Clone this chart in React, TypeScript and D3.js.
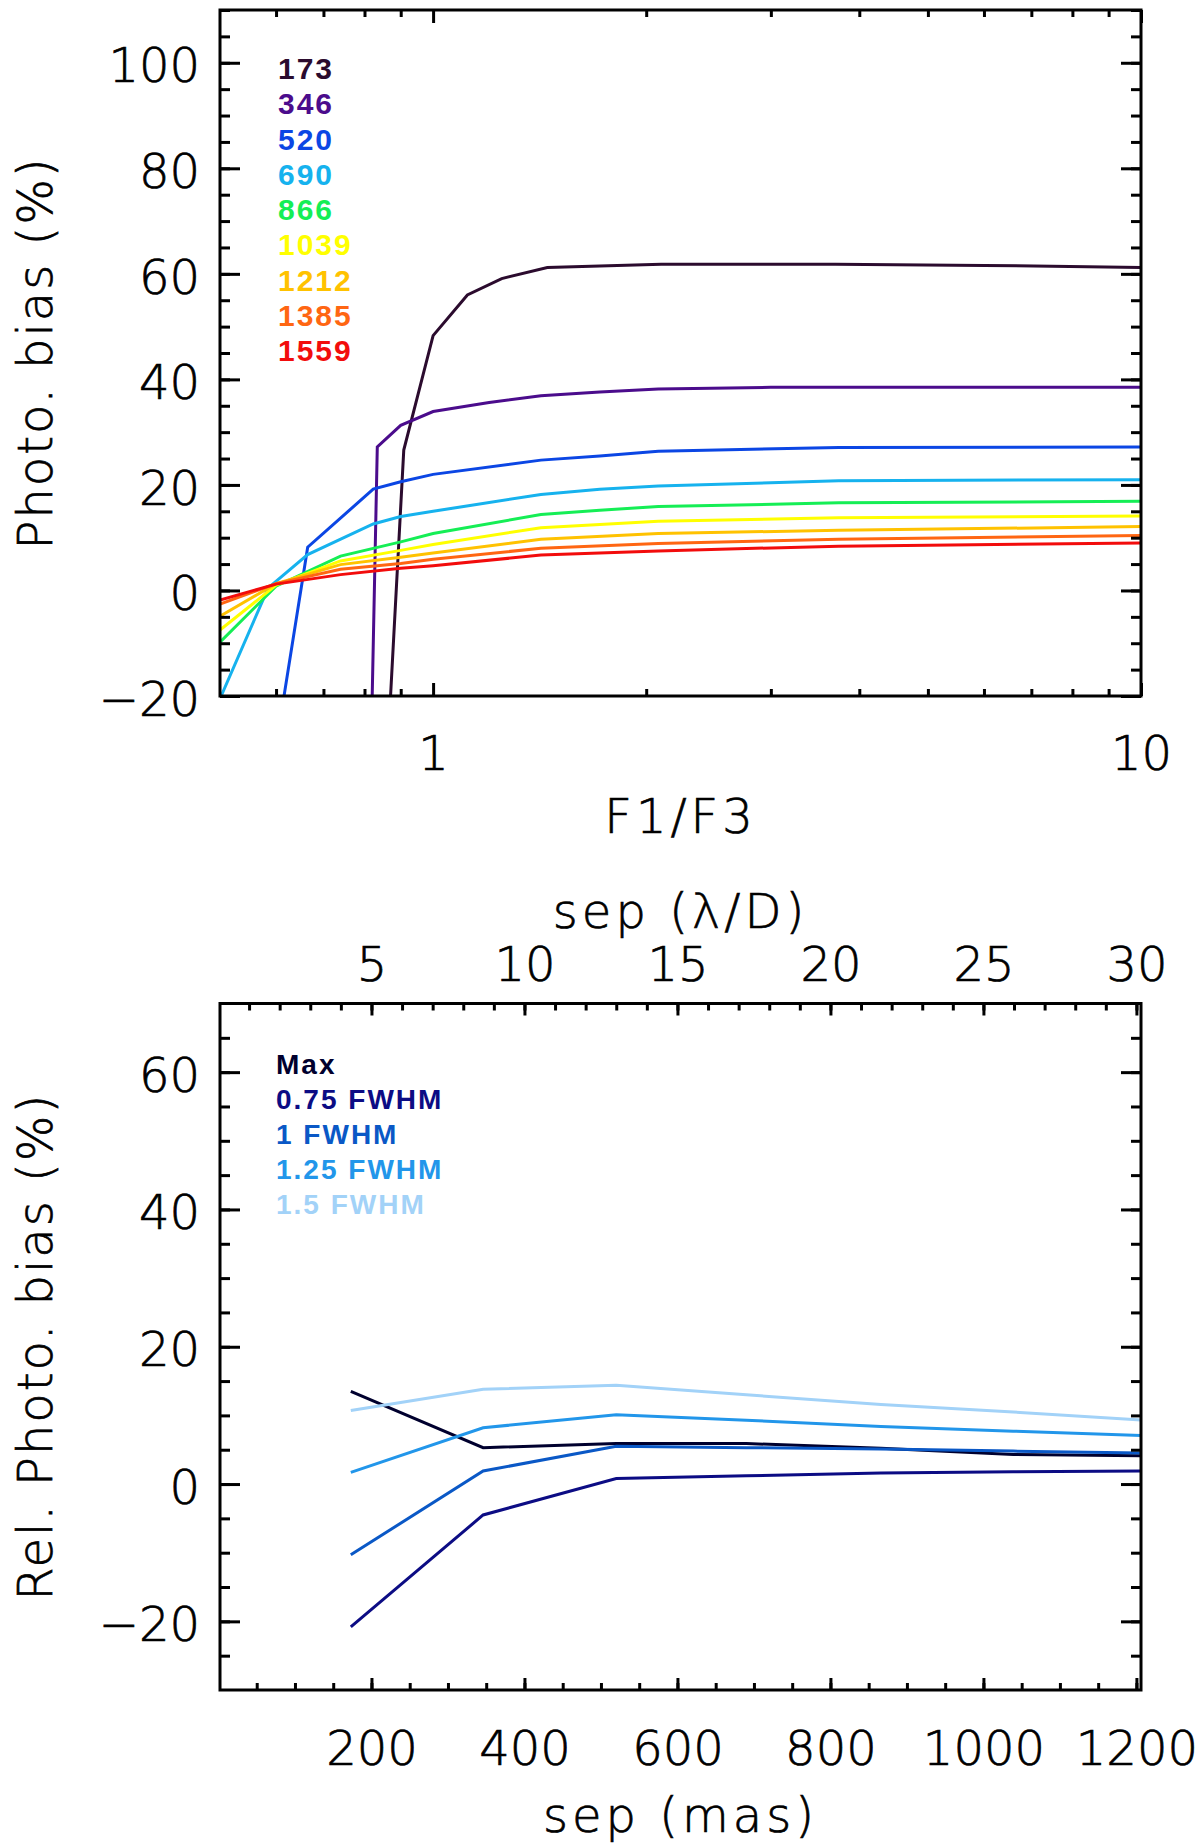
import React, { useEffect, useRef } from 'react';
import * as d3 from 'd3';

// ---- upper panel: photometric bias vs F1/F3, one curve per separation (mas)
const sepLabels = ['173', '346', '520', '690', '866', '1039', '1212', '1385', '1559'];
const sepColors = ['#2b0b2e', '#4b0c8c', '#0b46e4', '#16b2ee', '#15ee55', '#ffff00', '#ffc200', '#ff6612', '#f20c0c'];

const ratio173 = [0.83, 0.909, 1.0, 1.118, 1.25, 1.45, 2.1, 3.7, 6.0, 10];
const bias173 = [-72, 26.6, 48.3, 56.0, 59.1, 61.2, 61.8, 61.8, 61.6, 61.2];
const ratio346 = [0.8, 0.834, 0.9, 1.0, 1.2, 1.42, 1.72, 2.08, 3.0, 10];
const bias346 = [-91.5, 27.2, 31.3, 33.9, 35.6, 36.9, 37.6, 38.2, 38.5, 38.5];
const ratio520 = [0.6, 0.665, 0.823, 0.9, 1.0, 1.42, 1.72, 2.08, 3.74, 10];
const bias520 = [-29.5, 8.2, 19.2, 20.6, 22.0, 24.7, 25.5, 26.4, 27.1, 27.2];
const ratio690 = [0.5, 0.585, 0.665, 0.823, 0.9, 1.0, 1.42, 1.72, 2.08, 3.74, 10];
const bias690 = [-20.5, 0.5, 6.8, 12.6, 14.0, 15.0, 18.2, 19.2, 19.8, 20.8, 21.0];
const ratio866 = [0.5, 0.6, 0.74, 0.9, 1.0, 1.42, 1.72, 2.08, 3.74, 10];
const bias866 = [-9.8, 0.8, 6.5, 9.2, 10.8, 14.4, 15.2, 15.9, 16.6, 16.9];
const ratio1039 = [0.5, 0.6, 0.74, 0.9, 1.0, 1.42, 1.72, 2.08, 3.74, 10];
const bias1039 = [-7.5, 1.0, 5.6, 7.6, 8.7, 11.9, 12.5, 13.1, 13.8, 14.1];
const ratio1212 = [0.5, 0.6, 0.74, 0.9, 1.0, 1.42, 2.08, 3.74, 10];
const bias1212 = [-4.9, 1.3, 4.9, 6.3, 7.1, 9.7, 10.8, 11.4, 12.1];
const ratio1385 = [0.5, 0.6, 0.74, 0.9, 1.0, 1.42, 2.08, 3.74, 10];
const bias1385 = [-2.6, 1.3, 4.0, 5.1, 5.9, 8.0, 8.9, 9.7, 10.4];
const ratio1559 = [0.5, 0.6, 0.74, 0.9, 1.0, 1.42, 2.08, 3.74, 10];
const bias1559 = [-1.8, 1.2, 3.0, 4.2, 4.7, 6.7, 7.5, 8.4, 9.0];

const topX = [ratio173, ratio346, ratio520, ratio690, ratio866, ratio1039, ratio1212, ratio1385, ratio1559];
const topY = [bias173, bias346, bias520, bias690, bias866, bias1039, bias1212, bias1385, bias1559];

const topXMajor = [1, 10];
const topXMinor = [0.6, 0.7, 0.8, 0.9, 2, 3, 4, 5, 6, 7, 8, 9];
const topYMajor = [-20, 0, 20, 40, 60, 80, 100];

// ---- lower panel: relative photometric bias vs separation, one curve per aperture
const sepMas = [173, 346, 520, 690, 866, 1039, 1212];
const apLabels = ['Max', '0.75 FWHM', '1 FWHM', '1.25 FWHM', '1.5 FWHM'];
const apColors = ['#00002e', '#0c0c84', '#0a58c6', '#2296ea', '#a2d2f8'];
const relMax = [13.5, 5.3, 5.9, 5.9, 5.2, 4.3, 4.1];
const rel075 = [-20.8, -4.5, 0.8, 1.2, 1.6, 1.8, 1.9];
const rel100 = [-10.3, 1.9, 5.5, 5.3, 5.1, 4.8, 4.5];
const rel125 = [1.7, 8.2, 10.1, 9.3, 8.4, 7.7, 7.05];
const rel150 = [10.7, 13.8, 14.4, 13.0, 11.6, 10.5, 9.3];
const botY = [relMax, rel075, rel100, rel125, rel150];

const botXMajor = [200, 400, 600, 800, 1000, 1200];
const lodMajor = [5, 10, 15, 20, 25, 30];
const botYMajor = [-20, 0, 20, 40, 60];

const W = 1200;
const H = 1844;
const tickFont = "'DejaVu Sans', sans-serif";
const legendFont = "'Liberation Sans', Arial, sans-serif";

export default function App() {
  const svgRef = useRef<SVGSVGElement>(null);

  useEffect(() => {
    if (!svgRef.current) return;
    const svg = d3.select(svgRef.current);
    svg.selectAll('*').remove();

    const left = 220;
    const right = 1141;

    // thin sans text, slightly thickened to look like the IDL vector font
    const thinText = (sel: any) =>
      sel
        .attr('font-family', tickFont)
        .attr('font-size', 48)
        .attr('font-weight', 200)
        .attr('fill', '#000')
        .attr('stroke', '#000')
        .attr('stroke-width', 0.7);

    const styleAxis = (g: any, labelled: boolean) => {
      g.select('.domain').remove();
      g.selectAll('.tick line').attr('stroke', '#000').attr('stroke-width', 3);
      if (labelled) {
        thinText(g.selectAll('.tick text'));
      } else {
        g.selectAll('.tick text').remove();
      }
    };

    const addClip = (id: string, y0: number, y1: number) => {
      svg.append('defs').append('clipPath').attr('id', id)
        .append('rect').attr('x', left).attr('y', y0).attr('width', right - left).attr('height', y1 - y0);
    };

    const frame = (y0: number, y1: number) => {
      svg.append('rect')
        .attr('x', left).attr('y', y0).attr('width', right - left).attr('height', y1 - y0)
        .attr('fill', 'none').attr('stroke', '#000').attr('stroke-width', 3);
    };

    const yTitle = (text: string, cy: number) => {
      svg.append('text')
        .attr('transform', `translate(52, ${cy}) rotate(-90)`)
        .attr('text-anchor', 'middle')
        .call(thinText)
        .attr('letter-spacing', 2)
        .text(text);
    };

    const xTitle = (text: string, baseline: number) => {
      svg.append('text')
        .attr('x', (left + right) / 2).attr('y', baseline)
        .attr('text-anchor', 'middle')
        .call(thinText)
        .attr('letter-spacing', 4)
        .text(text);
    };

    // ================= upper panel =================
    const t0 = 10;
    const t1 = 696;
    const xT = d3.scaleLog().domain([0.5, 10]).range([left, right]);
    const yT = d3.scaleLinear().domain([-20, 110]).range([t1, t0]);
    const topYMinor = d3.range(-20, 111, 5);

    addClip('clipTop', t0, t1);
    const lineT = d3.line<[number, number]>().x(d => xT(d[0])).y(d => yT(d[1]));
    topX.forEach((xs, i) => {
      const pts = xs.map((v, j) => [v, topY[i][j]] as [number, number]);
      svg.append('path')
        .attr('d', lineT(pts))
        .attr('fill', 'none')
        .attr('stroke', sepColors[i])
        .attr('stroke-width', 3)
        .attr('clip-path', 'url(#clipTop)');
    });

    // y axis left (major + minor), right (mirrored)
    svg.append('g').attr('transform', `translate(${left},0)`)
      .call(d3.axisLeft(yT).tickValues(topYMinor).tickSize(-10).tickFormat(() => ''))
      .call(g => styleAxis(g, false));
    svg.append('g').attr('transform', `translate(${left},0)`)
      .call(d3.axisLeft(yT).tickValues(topYMajor).tickSize(-20).tickPadding(20))
      .call(g => styleAxis(g, true))
      .selectAll('.tick text').attr('dy', '0.4em');
    svg.append('g').attr('transform', `translate(${right},0)`)
      .call(d3.axisRight(yT).tickValues(topYMinor).tickSize(-10))
      .call(g => styleAxis(g, false));
    svg.append('g').attr('transform', `translate(${right},0)`)
      .call(d3.axisRight(yT).tickValues(topYMajor).tickSize(-20))
      .call(g => styleAxis(g, false));

    // x axis bottom (log), top mirrored
    svg.append('g').attr('transform', `translate(0,${t1})`)
      .call(d3.axisBottom(xT).tickValues(topXMinor).tickSize(-7))
      .call(g => styleAxis(g, false));
    svg.append('g').attr('transform', `translate(0,${t1})`)
      .call(d3.axisBottom(xT).tickValues(topXMajor).tickSize(-13).tickPadding(40).tickFormat(d3.format('d')))
      .call(g => styleAxis(g, true));
    svg.append('g').attr('transform', `translate(0,${t0})`)
      .call(d3.axisTop(xT).tickValues(topXMinor).tickSize(-7))
      .call(g => styleAxis(g, false));
    svg.append('g').attr('transform', `translate(0,${t0})`)
      .call(d3.axisTop(xT).tickValues(topXMajor).tickSize(-13))
      .call(g => styleAxis(g, false));

    frame(t0, t1);
    yTitle('Photo. bias (%)', (t0 + t1) / 2);
    xTitle('F1/F3', 833);

    // legend
    svg.append('g').selectAll('text')
      .data(sepLabels)
      .enter()
      .append('text')
      .attr('x', 278)
      .attr('y', (_, i) => 79 + i * 35.25)
      .attr('fill', (_, i) => sepColors[i])
      .attr('font-family', legendFont)
      .attr('font-size', 30)
      .attr('font-weight', 'bold')
      .attr('letter-spacing', 2)
      .text(d => d);

    // ================= lower panel =================
    const b0 = 1003.5;
    const b1 = 1690;
    const xB = d3.scaleLinear().domain([2, 1206]).range([left, right]);
    const xL = d3.scaleLinear().domain([2 / 40, 1206 / 40]).range([left, right]);
    const yB = d3.scaleLinear().domain([-30, 70]).range([b1, b0]);
    const botXMinor = d3.range(50, 1201, 50);
    const lodMinor = d3.range(1, 31, 1);
    const botYMinor = d3.range(-25, 70, 5);

    addClip('clipBot', b0, b1);
    const lineB = d3.line<number>().x((_, j) => xB(sepMas[j])).y(d => yB(d));
    botY.forEach((vals, i) => {
      svg.append('path')
        .attr('d', lineB(vals))
        .attr('fill', 'none')
        .attr('stroke', apColors[i])
        .attr('stroke-width', 3)
        .attr('clip-path', 'url(#clipBot)');
    });

    svg.append('g').attr('transform', `translate(${left},0)`)
      .call(d3.axisLeft(yB).tickValues(botYMinor).tickSize(-10).tickFormat(() => ''))
      .call(g => styleAxis(g, false));
    svg.append('g').attr('transform', `translate(${left},0)`)
      .call(d3.axisLeft(yB).tickValues(botYMajor).tickSize(-20).tickPadding(20))
      .call(g => styleAxis(g, true))
      .selectAll('.tick text').attr('dy', '0.4em');
    svg.append('g').attr('transform', `translate(${right},0)`)
      .call(d3.axisRight(yB).tickValues(botYMinor).tickSize(-10))
      .call(g => styleAxis(g, false));
    svg.append('g').attr('transform', `translate(${right},0)`)
      .call(d3.axisRight(yB).tickValues(botYMajor).tickSize(-20))
      .call(g => styleAxis(g, false));

    // bottom: mas
    svg.append('g').attr('transform', `translate(0,${b1})`)
      .call(d3.axisBottom(xB).tickValues(botXMinor).tickSize(-7))
      .call(g => styleAxis(g, false));
    svg.append('g').attr('transform', `translate(0,${b1})`)
      .call(d3.axisBottom(xB).tickValues(botXMajor).tickSize(-12).tickPadding(41).tickFormat(d3.format('d')))
      .call(g => styleAxis(g, true));
    // top: lambda/D
    svg.append('g').attr('transform', `translate(0,${b0})`)
      .call(d3.axisTop(xL).tickValues(lodMinor).tickSize(-7))
      .call(g => styleAxis(g, false));
    svg.append('g').attr('transform', `translate(0,${b0})`)
      .call(d3.axisTop(xL).tickValues(lodMajor).tickSize(-12).tickPadding(23).tickFormat(d3.format('d')))
      .call(g => styleAxis(g, true));

    frame(b0, b1);
    yTitle('Rel. Photo. bias (%)', (b0 + b1) / 2);
    xTitle('sep (λ/D)', 928);
    xTitle('sep (mas)', 1832);

    svg.append('g').selectAll('text')
      .data(apLabels)
      .enter()
      .append('text')
      .attr('x', 276)
      .attr('y', (_, i) => 1074 + i * 35)
      .attr('fill', (_, i) => apColors[i])
      .attr('font-family', legendFont)
      .attr('font-size', 28)
      .attr('font-weight', 'bold')
      .attr('letter-spacing', 2)
      .text(d => d);
  }, []);

  return (
    <svg
      ref={svgRef}
      width={W}
      height={H}
      style={{ position: 'absolute', left: 0, top: 0, background: '#fff' }}
    />
  );
}
